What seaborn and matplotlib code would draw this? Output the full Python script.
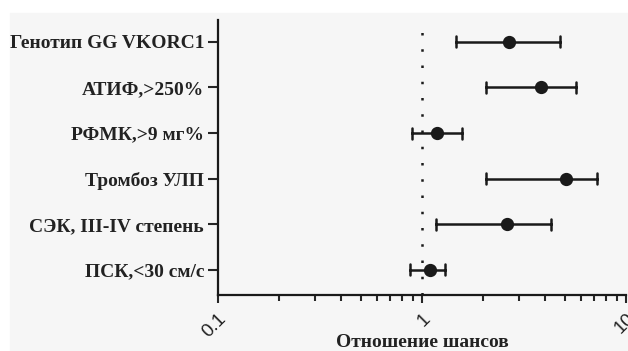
import numpy as np
import pandas as pd
import seaborn as sns
import matplotlib.pyplot as plt
from matplotlib.patches import Rectangle

# odds ratios with 95% CI
factors = ["Генотип GG VKORC1", "АТИФ,>250%", "РФМК,>9 мг%",
           "Тромбоз УЛП", "СЭК, III-IV степень", "ПСК,<30 см/с"]
odds = [2.66, 3.85, 1.18, 5.10, 2.60, 1.10]
ci_low = [1.47, 2.07, 0.89, 2.07, 1.17, 0.87]
ci_high = [4.77, 5.70, 1.57, 7.22, 4.31, 1.29]
x_ticks = [0.1, 1, 10]
x_ticklabels = ["0.1", "1", "10"]

# long table: median of (low, OR, high) = OR, 100% interval = CI
df = pd.DataFrame({
    "factor": np.repeat(factors, 3),
    "value": np.column_stack([ci_low, odds, ci_high]).ravel(),
})

sns.set_theme(style="ticks")
plt.rcParams["font.family"] = ["Liberation Serif", "DejaVu Serif"]

bg = "#f6f6f6"
fig = plt.figure(figsize=(6.28, 3.51), dpi=100, facecolor="white")
fig.patches.append(Rectangle((10 / 628, 0), 1, 1 - 13 / 351,
                             transform=fig.transFigure, color=bg, zorder=-10))
ax = fig.add_axes([218 / 628, 1 - 295 / 351, 408 / 628, 275 / 351])
ax.set_facecolor(bg)
ax.set_xscale("log")

sns.pointplot(data=df, x="value", y="factor", order=factors,
              estimator=np.median, errorbar=("pi", 100),
              linestyle="none", color="#1a1a1a", markersize=7.5,
              capsize=0.24, err_kws={"linewidth": 1.8}, ax=ax)

ax.axvline(1, color="#1a1a1a", linestyle=(0, (1, 5.5)), linewidth=1.8, zorder=0)

ax.set_xlim(0.1, 10)
ax.set_ylim(5.55, -0.48)
ax.set_xticks(x_ticks)
ax.set_xticklabels(x_ticklabels, rotation=45, ha="right", rotation_mode="anchor",
                   family=["Liberation Sans"], fontsize=13.5, color="#222222")
ax.tick_params(axis="x", which="major", length=6, width=1.5, pad=5)
ax.tick_params(axis="x", which="minor", length=4, width=1.5)
ax.tick_params(axis="y", length=7, width=1.5, pad=3)
for lbl in ax.get_yticklabels():
    lbl.set_fontsize(14)
    lbl.set_fontweight("bold")
    lbl.set_color("#222222")

ax.set_ylabel("")
ax.set_xlabel("Отношение шансов", fontsize=14, fontweight="bold", color="#222222")
ax.xaxis.set_label_coords(0.5, (295 - 334) / 275)

sns.despine(ax=ax)
for s in ["left", "bottom"]:
    ax.spines[s].set_linewidth(1.6)
    ax.spines[s].set_color("#1a1a1a")

fig.savefig("out.png", dpi=100, facecolor=fig.get_facecolor())
